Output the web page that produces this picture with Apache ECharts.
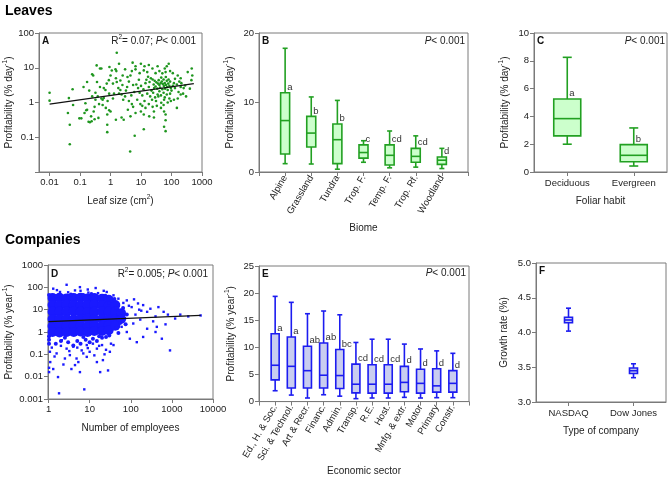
<!DOCTYPE html>
<html>
<head>
<meta charset="utf-8">
<script src="https://cdn.jsdelivr.net/npm/echarts@6/dist/echarts.min.js"></script>
<style>
html, body { margin: 0; padding: 0; background: #fff; }
#main { width: 669px; height: 477px; }
</style>
</head>
<body>
<div id="main"></div>
<script>
// ---- panel A: leaf size (cm2) vs profitability (% day-1), log-log
var leafPoints = [
    [0.01, 1.9], [0.01, 1.13], [0.057, 2.4], [0.043, 1.34], [0.04, 0.5], [0.046, 0.23], [0.046, 0.063], [0.059, 0.85],
    [0.095, 0.35], [0.11, 0.35], [0.15, 0.95], [0.17, 3.9], [0.19, 0.28], [0.21, 0.27], [0.24, 0.29], [0.28, 0.55],
    [0.25, 6.5], [0.27, 6], [0.35, 11.7], [0.45, 9.5], [0.5, 9.5], [0.32, 1.9], [0.38, 1.5], [0.5, 1.3],
    [0.55, 1.2], [0.6, 1.35], [0.68, 2.3], [0.88, 4.4], [0.92, 10.5], [1.1, 8.3], [1.6, 27], [1.9, 13],
    [1.45, 9], [1.55, 8], [1, 6], [0.36, 3.9], [0.75, 3.5], [1.2, 3.5], [1.6, 3.9], [2.1, 4.3],
    [0.9, 1.8], [1.3, 1.8], [1.9, 1.8], [2.3, 1.7], [0.32, 1.2], [0.55, 0.85], [0.7, 0.7], [0.9, 0.6],
    [0.78, 0.45], [1, 0.55], [2.3, 0.37], [1.5, 0.32], [0.78, 0.23], [0.78, 0.14], [0.14, 0.5], [0.16, 0.6],
    [0.17, 0.62], [0.23, 0.4], [2.45, 3.2], [3.6, 5.4], [4.5, 6], [6.6, 11], [6.6, 9], [5.3, 14],
    [9.9, 13], [12.3, 8.4], [23.7, 9.5], [50, 6.9], [64, 7.5], [81, 13], [340, 7.5], [460, 9.5],
    [480, 6], [2.1, 2.3], [3, 1.5], [4, 1.1], [5, 0.9], [6, 2], [3.5, 2.8], [4.8, 1.6],
    [5.5, 0.75], [2.6, 1.2], [3.7, 0.62], [2.7, 0.32], [4.5, 0.4], [6.6, 0.5], [9.9, 0.55], [12.3, 0.45],
    [18.6, 0.4], [26.5, 0.55], [26.5, 0.37], [57, 0.55], [64, 0.45], [64, 0.31], [64, 0.15], [57, 0.2],
    [150, 0.7], [300, 1.5], [240, 1.8], [170, 2.0], [400, 2.5], [450, 4.4], [12.3, 0.17], [6.2, 0.11],
    [4.4, 0.039], [46, 0.98], [57, 1.2], [37, 1.5], [90, 1.8], [200, 2.8], [280, 3.1], [120, 3.6],
    [200, 5], [21, 5], [24, 4.6], [28, 4.2], [32, 3.8], [36, 3.5], [40, 3.2], [44, 3.6],
    [48, 4.0], [52, 3.4], [56, 3.0], [60, 3.6], [66, 3.2], [72, 2.8], [78, 3.5], [85, 3.0],
    [95, 2.6], [30, 2.9], [34, 2.5], [42, 2.7], [50, 2.4], [62, 2.5], [70, 4.2], [80, 4.6],
    [90, 4.0], [26, 3.3], [38, 4.4], [46, 5.2], [55, 4.6], [65, 5.4], [75, 2.3], [10, 3.0],
    [12, 2.4], [14, 3.6], [16, 1.8], [18, 2.8], [20, 1.5], [22, 2.2], [11, 1.6], [13, 1.1],
    [15, 4.5], [17, 5.5], [19, 3.9], [23, 1.2], [25, 1.9], [27, 2.6], [29, 1.4], [31, 1.1],
    [35, 1.7], [40, 2.1], [45, 1.6], [55, 1.9], [60, 1.4], [70, 1.7], [85, 1.3], [100, 2.2],
    [110, 3], [130, 2.6], [150, 3.3], [180, 4], [210, 3.6], [250, 2.6], [8, 2.6], [9, 1.9],
    [7, 3.3], [8.5, 4.5], [7.5, 1.2], [9.5, 0.9], [11, 0.8], [14, 0.7], [18, 0.9], [24, 0.75],
    [33, 0.8], [45, 0.7], [55, 0.85], [75, 1.0], [95, 1.1], [120, 1.2], [160, 1.3], [200, 1.7],
    [130, 4.8], [160, 6], [110, 7], [90, 8], [60, 9.5], [40, 8], [30, 7], [16, 7.5],
    [13, 11], [18, 12], [35, 11], [70, 11], [9, 7], [5, 8], [3, 9], [2.5, 6],
    [1.5, 5], [4, 4], [5.5, 3.2], [3.2, 2.2], [1.8, 2.6], [1.2, 1.3], [0.8, 1.1], [0.6, 2.6],
    [0.45, 2.8], [0.42, 0.9], [0.3, 0.75], [0.25, 1.5], [0.2, 2.2], [0.13, 2.8], [0.3, 0.33], [0.4, 0.36]
];
var leafFit = [[0.01, 0.9], [540, 3.5]];
var leafSizeTicks = [0.01, 0.1, 1, 10, 100, 1000];
var leafProfitTicks = [0.01, 0.1, 1, 10, 100];
var leafProfitLabels = [0.1, 1, 10, 100];

// ---- panel B: biomes, boxes are [low, q1, median, q3, high]
var biomes = ['Alpine', 'Grassland', 'Tundra', 'Trop. F.', 'Temp. F.', 'Trop. Rf.', 'Woodland'];
var biomeBoxes = [
    [1.2, 2.6, 7.4, 11.4, 17.8],
    [1.15, 3.6, 5.6, 8.0, 10.8],
    [0.4, 1.2, 4.65, 6.9, 10.3],
    [1.4, 2.0, 2.8, 3.9, 4.5],
    [0.6, 1.0, 2.4, 3.9, 5.9],
    [0.7, 1.4, 2.25, 3.4, 5.2],
    [0.5, 1.1, 1.7, 2.15, 3.4]
];
var biomeLetters = ['a', 'b', 'b', 'c', 'cd', 'cd', 'd'];

// ---- panel C: foliar habit
var habits = ['Deciduous', 'Evergreen'];
var habitBoxes = [
    [2.0, 2.6, 3.84, 5.25, 8.25],
    [0.43, 0.74, 1.2, 1.97, 3.17]
];
var habitLetters = ['a', 'b'];

// ---- panel D: employees vs profitability (% year-1), log-log
// dense centre of the cloud (drawn with big dots)
var firmCore = [
    [1.25, 33], [1.85, 34], [2.75, 32], [4.1, 33], [6, 34], [8.9, 32], [13, 33], [20, 31], [29, 28],
    [1.25, 16], [1.85, 16], [2.75, 17], [4.1, 16], [6, 15], [8.9, 16], [13, 17], [20, 16], [29, 15],
    [1.25, 8], [1.85, 8], [2.75, 8], [4.1, 8.5], [6, 8], [8.9, 7.8], [13, 8], [20, 8.2], [29, 8],
    [1.25, 3.8], [1.85, 3.8], [2.75, 3.8], [4.1, 3.7], [6, 3.8], [8.9, 3.9], [13, 3.8], [20, 3.8], [29, 3.8],
    [1.25, 1.87], [1.85, 1.9], [2.75, 1.85], [4.1, 1.9], [6, 1.87], [8.9, 1.8], [13, 1.9], [20, 1.9], [29, 2],
    [1.25, 1.0], [1.85, 0.95], [2.75, 1.0], [4.1, 1.0], [6, 1.05], [8.9, 1.0], [13, 1.1], [20, 1.1], [29, 1.2],
    [42, 16], [42, 8], [42, 3.8], [42, 1.9], [58, 7], [58, 3.8]
];
// ragged rim of the cloud
var firmEdge = [
    [1.03, 0.3], [1.03, 0.45], [1.03, 0.65], [1.03, 45], [2, 0.4], [3, 0.35], [5, 0.4], [8, 0.45],
    [12, 0.5], [20, 0.55], [1.5, 0.3], [4, 0.25], [6, 0.3], [10, 0.35], [15, 0.4], [25, 0.6],
    [30, 0.7], [50, 0.9], [45, 1.5], [55, 2.5], [70, 4], [50, 7], [45, 12], [30, 20], [20, 30],
    [10, 35], [5, 40], [3, 38], [1.5, 40], [7, 45], [15, 40], [80, 6], [65, 12], [35, 25],
    [2.5, 0.55], [7, 0.6], [17, 0.65], [3.5, 48], [11, 50], [24, 42], [40, 30], [75, 2.2]
];
// scattered single firms
var firmPoints = [
    [2.75, 130], [5.8, 102], [14, 93], [9.3, 58], [10, 37], [4.4, 73], [1.9, 62], [1.3, 87],
    [26, 62], [38, 44], [50, 31], [80, 26], [120, 29], [200, 16], [300, 11], [470, 13],
    [630, 8], [800, 6], [1600, 6], [5000, 5.5], [66, 20], [105, 13], [150, 19], [250, 8],
    [400, 5], [170, 3.6], [115, 2.4], [250, 1.4], [400, 1], [430, 1.7], [900, 0.15], [570, 0.5],
    [200, 0.6], [140, 0.35], [95, 0.5], [80, 1], [60, 1.7], [1.08, 0.13], [1.1, 0.045], [1.7, 0.0096],
    [1.8, 0.0018], [2.3, 0.035], [3.6, 0.022], [4.8, 0.065], [7.4, 0.0027], [5.8, 0.016], [10, 0.13], [15, 0.045],
    [18, 0.016], [28, 0.019], [23, 0.1], [2.75, 0.18], [4, 0.22], [8.5, 0.26], [12, 0.3], [38, 0.26],
    [2.1, 0.43], [3.3, 0.092], [5.3, 0.045], [6.4, 0.15], [15, 0.18], [21, 0.055], [1.3, 0.022], [1.57, 0.11],
    [2.5, 0.065], [4.4, 0.033], [8.5, 0.077], [20, 0.26], [31, 0.13], [1.03, 0.016], [1.03, 0.025], [1.2, 0.2],
    [180, 9], [350, 3], [700, 2.2], [1200, 4], [2500, 5], [130, 6], [90, 15], [160, 10],
    [3.2, 0.14], [5, 0.2], [7, 0.11], [9, 0.19], [13, 0.09], [17, 0.24], [25, 0.16], [33, 0.3],
    [2, 0.24], [1.4, 0.08], [6, 70], [9, 80], [16, 55], [22, 70], [3, 60], [1.6, 75]
];
var firmFit = [[1, 2.9], [5000, 5.6]];
var employeeTicks = [1, 10, 100, 1000, 10000];
var firmProfitTicks = [0.001, 0.01, 0.1, 1, 10, 100, 1000];

// ---- panel E: economic sectors
var sectors = ['Ed., H. & Soc.', 'Sci. & Technol.', 'Art & Recr.', 'Financ.', 'Admin.', 'Transp.',
    'R.E.', 'Host.', 'Mnfg. & extr.', 'Motor', 'Primary', 'Constr.'];
var sectorBoxes = [
    [2.0, 4.0, 6.7, 12.5, 19.4],
    [1.2, 2.5, 6.5, 11.9, 18.3],
    [0.66, 2.5, 5.7, 10.2, 16.2],
    [1.26, 2.5, 4.86, 10.8, 16.7],
    [1.0, 2.4, 4.8, 9.6, 16.0],
    [0.54, 1.6, 3.2, 6.9, 10.9],
    [0.66, 1.56, 3.2, 6.8, 11.5],
    [0.66, 1.56, 3.2, 6.8, 11.5],
    [0.78, 1.8, 3.54, 6.5, 10.6],
    [0.66, 1.56, 3.36, 5.95, 9.7],
    [0.72, 1.74, 2.9, 6.05, 9.35],
    [0.72, 1.74, 3.36, 5.7, 8.9]
];
var sectorLetters = ['a', 'a', 'ab', 'ab', 'bc', 'cd', 'cd', 'cd', 'd', 'd', 'd', 'd'];

// ---- panel F: stock exchanges
var exchanges = ['NASDAQ', 'Dow Jones'];
var exchangeBoxes = [
    [4.02, 4.14, 4.18, 4.22, 4.35],
    [3.35, 3.41, 3.45, 3.49, 3.55]
];

var FONT = '"Liberation Sans", Arial, sans-serif';
var GREEN = '#22a022', GREEN_FILL = '#ccffcc';
var BLUE = '#1c1cf0', BLUE_FILL = '#c9cdf0';
var LINE = '#7a7a7a';

function plain(v) { return String(+v); }

var nameStyle = {
    color: '#222', fontFamily: FONT, fontSize: 10,
    rich: {
        t: { fontSize: 10, fontFamily: FONT, color: '#222', lineHeight: 15 },
        s: { fontSize: 6.5, fontFamily: FONT, color: '#222', lineHeight: 8, verticalAlign: 'top' }
    }
};
var labelBase = { color: '#222', fontFamily: FONT, fontSize: 9.5 };

function axisCommon(extra) {
    var ax = {
        nameLocation: 'middle',
        nameTextStyle: nameStyle,
        axisLine: { show: true, onZero: false, lineStyle: { color: LINE, width: 1 } },
        axisTick: { show: true, length: 4, lineStyle: { color: LINE } },
        axisLabel: Object.assign({ margin: 5 }, labelBase),
        splitLine: { show: false }
    };
    for (var k in extra) {
        if (k === 'axisLabel' || k === 'axisTick') {
            ax[k] = Object.assign({}, ax[k], extra[k]);
        } else {
            ax[k] = extra[k];
        }
    }
    return ax;
}

// padded category list so the boxes sit in from the frame like the original
function padded(list) { return [''].concat(list, ['']); }

function boxData(boxes, offset) {
    return boxes.map(function (b, i) { return [i + offset].concat(b); });
}

function boxRenderer(opt, letters) {
    return function (params, api) {
        var x = api.value(0);
        var p = [1, 2, 3, 4, 5].map(function (d) { return api.coord([x, api.value(d)]); });
        var cx = p[0][0];
        var hw = opt.box / 2, cw = opt.cap / 2;
        var ls = { stroke: opt.color, lineWidth: opt.lw };
        var kids = [
            { type: 'line', shape: { x1: cx, y1: p[0][1], x2: cx, y2: p[1][1] }, style: ls },
            { type: 'line', shape: { x1: cx, y1: p[3][1], x2: cx, y2: p[4][1] }, style: ls },
            { type: 'line', shape: { x1: cx - cw, y1: p[0][1], x2: cx + cw, y2: p[0][1] }, style: ls },
            { type: 'line', shape: { x1: cx - cw, y1: p[4][1], x2: cx + cw, y2: p[4][1] }, style: ls },
            { type: 'rect', shape: { x: cx - hw, y: p[3][1], width: opt.box, height: p[1][1] - p[3][1] },
              style: { fill: opt.fill, stroke: opt.color, lineWidth: opt.lw } },
            { type: 'line', shape: { x1: cx - hw, y1: p[2][1], x2: cx + hw, y2: p[2][1] }, style: ls }
        ];
        if (letters) {
            kids.push({ type: 'text', style: {
                text: letters[params.dataIndex], x: cx + 2, y: p[3][1] - 0.5,
                fill: '#333', fontSize: 9.5, fontFamily: FONT, align: 'left', verticalAlign: 'bottom'
            } });
        }
        return { type: 'group', children: kids };
    };
}

function richLabel(x, y, text, align, size) {
    var sz = size || 10;
    return {
        type: 'text', x: x, y: y, silent: true,
        style: {
            text: text, align: align || 'right', verticalAlign: 'middle',
            rich: {
                r: { fontSize: sz, fontFamily: FONT, fill: '#222', lineHeight: 14 },
                s: { fontSize: 6.5, fontFamily: FONT, fill: '#222', lineHeight: 8, verticalAlign: 'top' },
                i: { fontSize: sz, fontFamily: FONT, fill: '#222', fontStyle: 'italic', lineHeight: 14 },
                b: { fontSize: sz, fontFamily: FONT, fill: '#111', fontWeight: 'bold', lineHeight: 14 }
            }
        }
    };
}

var grids = [
    { left: 39, top: 33, width: 163, height: 139 },   // A
    { left: 259, top: 33, width: 209, height: 139 },  // B
    { left: 534, top: 33, width: 133, height: 139 },  // C
    { left: 48, top: 265, width: 165, height: 134 },  // D
    { left: 259, top: 266, width: 210, height: 139 }, // E
    { left: 536, top: 263, width: 130, height: 139 }  // F
].map(function (g) {
    return Object.assign({ show: true, borderColor: LINE, borderWidth: 1, containLabel: false }, g);
});

var dayName = '{t|Profitability (% day}{s|-1}{t|)}';
var yearName = '{t|Profitability (% year}{s|-1}{t|)}';

var option = {
    animation: false,
    backgroundColor: '#fff',
    textStyle: { fontFamily: FONT },
    grid: grids,
    xAxis: [
        axisCommon({ gridIndex: 0, type: 'log', min: 0.0045, max: 1000,
            name: '{t|Leaf size (cm}{s|2}{t|)}', nameGap: 22,
            axisTick: { customValues: leafSizeTicks },
            axisLabel: { customValues: leafSizeTicks, formatter: plain } }),
        axisCommon({ gridIndex: 1, type: 'category', boundaryGap: false, data: padded(biomes),
            name: '{t|Biome}', nameGap: 49,
            axisTick: { interval: 0 },
            axisLabel: { interval: 0, rotate: 60, margin: 4 } }),
        axisCommon({ gridIndex: 2, type: 'category', data: habits,
            name: '{t|Foliar habit}', nameGap: 22,
            axisTick: { alignWithLabel: true },
            axisLabel: { interval: 0, margin: 6 } }),
        axisCommon({ gridIndex: 3, type: 'log', min: 0.97, max: 10000,
            name: '{t|Number of employees}', nameGap: 22,
            axisTick: { customValues: employeeTicks },
            axisLabel: { customValues: employeeTicks, formatter: plain } }),
        axisCommon({ gridIndex: 4, type: 'category', boundaryGap: false, data: padded(sectors),
            name: '{t|Economic sector}', nameGap: 61,
            axisTick: { interval: 0 },
            axisLabel: { interval: 0, rotate: 60, margin: 4 } }),
        axisCommon({ gridIndex: 5, type: 'category', data: exchanges,
            name: '{t|Type of company}', nameGap: 22,
            axisTick: { alignWithLabel: true },
            axisLabel: { interval: 0, margin: 6 } })
    ],
    yAxis: [
        axisCommon({ gridIndex: 0, type: 'log', min: 0.01, max: 100, name: dayName, nameGap: 21,
            axisTick: { customValues: leafProfitTicks },
            axisLabel: { customValues: leafProfitLabels, formatter: plain } }),
        axisCommon({ gridIndex: 1, type: 'value', min: 0, max: 20, interval: 10, name: dayName, nameGap: 21 }),
        axisCommon({ gridIndex: 2, type: 'value', min: 0, max: 10, interval: 2, name: dayName, nameGap: 21 }),
        axisCommon({ gridIndex: 3, type: 'log', min: 0.001, max: 1000, name: yearName, nameGap: 31,
            axisTick: { customValues: firmProfitTicks },
            axisLabel: { customValues: firmProfitTicks, formatter: plain } }),
        axisCommon({ gridIndex: 4, type: 'value', min: 0, max: 25, interval: 5, name: yearName, nameGap: 20 }),
        axisCommon({ gridIndex: 5, type: 'value', min: 3, max: 5, interval: 0.5, name: '{t|Growth rate (%)}', nameGap: 24,
            axisLabel: { formatter: function (v) { return v.toFixed(1); } } })
    ],
    series: [
        { type: 'scatter', xAxisIndex: 0, yAxisIndex: 0, data: leafPoints, symbol: 'circle', symbolSize: 2.6,
          itemStyle: { color: '#1f961f', opacity: 1 }, z: 2 },
        { type: 'line', xAxisIndex: 0, yAxisIndex: 0, data: leafFit, symbol: 'none',
          lineStyle: { color: '#111', width: 1.2 }, z: 3 },
        { type: 'custom', xAxisIndex: 1, yAxisIndex: 1, data: boxData(biomeBoxes, 1),
          encode: { x: 0, y: [1, 2, 3, 4, 5] },
          renderItem: boxRenderer({ box: 9, cap: 5, lw: 1.6, color: GREEN, fill: GREEN_FILL }, biomeLetters) },
        { type: 'custom', xAxisIndex: 2, yAxisIndex: 2, data: boxData(habitBoxes, 0),
          encode: { x: 0, y: [1, 2, 3, 4, 5] },
          renderItem: boxRenderer({ box: 27, cap: 9, lw: 1.6, color: GREEN, fill: GREEN_FILL }, habitLetters) },
        { type: 'scatter', xAxisIndex: 3, yAxisIndex: 3, data: firmCore, symbol: 'circle', symbolSize: 10,
          itemStyle: { color: '#1a1aff', opacity: 1 }, z: 2 },
        { type: 'scatter', xAxisIndex: 3, yAxisIndex: 3, data: firmEdge, symbol: 'circle', symbolSize: 4,
          itemStyle: { color: '#1a1aff', opacity: 1 }, z: 2 },
        { type: 'scatter', xAxisIndex: 3, yAxisIndex: 3, data: firmPoints, symbol: 'rect', symbolSize: 2.4,
          itemStyle: { color: '#1a1aff', opacity: 1 }, z: 2 },
        { type: 'line', xAxisIndex: 3, yAxisIndex: 3, data: firmFit, symbol: 'none',
          lineStyle: { color: '#111', width: 1.2 }, z: 3 },
        { type: 'custom', xAxisIndex: 4, yAxisIndex: 4, data: boxData(sectorBoxes, 1),
          encode: { x: 0, y: [1, 2, 3, 4, 5] },
          renderItem: boxRenderer({ box: 8, cap: 5, lw: 1.6, color: BLUE, fill: BLUE_FILL }, sectorLetters) },
        { type: 'custom', xAxisIndex: 5, yAxisIndex: 5, data: boxData(exchangeBoxes, 0),
          encode: { x: 0, y: [1, 2, 3, 4, 5] },
          renderItem: boxRenderer({ box: 8, cap: 5, lw: 1.6, color: BLUE, fill: BLUE_FILL }, null) }
    ],
    graphic: [
        { type: 'text', x: 5, y: 11, style: { text: 'Leaves', font: 'bold 14px ' + FONT, fill: '#000', verticalAlign: 'middle' } },
        { type: 'text', x: 5, y: 240, style: { text: 'Companies', font: 'bold 14px ' + FONT, fill: '#000', verticalAlign: 'middle' } },
        richLabel(42, 41, '{b|A}', 'left'),
        richLabel(262, 41, '{b|B}', 'left'),
        richLabel(537, 41, '{b|C}', 'left'),
        richLabel(51, 274, '{b|D}', 'left'),
        richLabel(262, 274, '{b|E}', 'left'),
        richLabel(539, 271, '{b|F}', 'left'),
        richLabel(196, 41, '{r|R}{s|2}{r|= 0.07; }{i|P}{r|< 0.001}'),
        richLabel(465, 41, '{i|P}{r|< 0.001}'),
        richLabel(665, 41, '{i|P}{r|< 0.001}'),
        richLabel(208, 274, '{r|R}{s|2}{r|= 0.005; }{i|P}{r|< 0.001}'),
        richLabel(466, 273, '{i|P}{r|< 0.001}')
    ]
};

var chart = echarts.init(document.getElementById('main'), null, { renderer: 'canvas' });
chart.setOption(option);
</script>
</body>
</html>
